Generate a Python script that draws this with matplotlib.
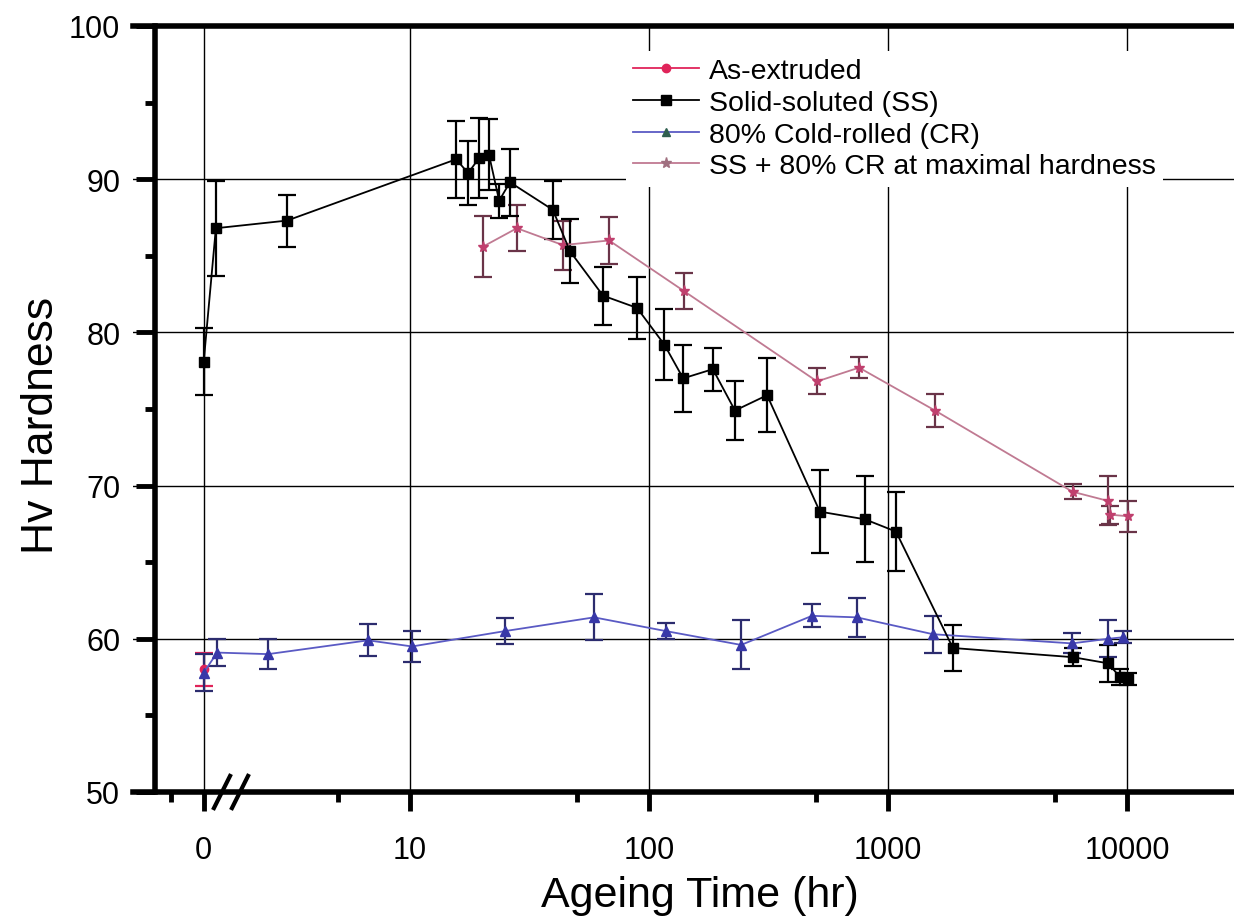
import numpy as np
import matplotlib
matplotlib.use("Agg")
import matplotlib.pyplot as plt
from matplotlib.lines import Line2D
from matplotlib.ticker import FixedLocator, NullFormatter

plt.rcParams["font.family"] = ["Liberation Sans", "DejaVu Sans"]

# =====================================================
# DATA (hours on a log axis, "0" sits at X_ZERO)
# =====================================================

X_ZERO = 1.37

as_ext_time = [X_ZERO]
as_ext_hv = [58.0]
as_ext_err = [1.1]

ss_time = [X_ZERO, 1.54, 3.06, 15.6, 17.5, 19.5, 21.4, 23.6, 26.2, 39.6,
           46.7, 64.2, 89.1, 116, 139, 185, 229, 312, 519, 801,
           1080, 1870, 5940, 8340, 9360, 10090]
ss_hv = [78.1, 86.8, 87.3, 91.3, 90.4, 91.4, 91.6, 88.6, 89.8, 88.0,
         85.3, 82.4, 81.6, 79.2, 77.0, 77.6, 74.9, 75.9, 68.3, 67.8,
         67.0, 59.4, 58.8, 58.4, 57.5, 57.4]
ss_err = [2.2, 3.1, 1.7, 2.5, 2.1, 2.6, 2.3, 1.1, 2.2, 1.9,
          2.1, 1.9, 2.0, 2.3, 2.2, 1.4, 1.9, 2.4, 2.7, 2.8,
          2.6, 1.5, 0.6, 1.2, 0.5, 0.4]

cr_time = [X_ZERO, 1.56, 2.55, 6.67, 10.2, 24.9, 58.9, 118, 243, 481,
           741, 1542, 5890, 8340, 9620]
cr_hv = [57.8, 59.1, 59.0, 59.9, 59.5, 60.5, 61.4, 60.5, 59.6, 61.5,
         61.4, 60.3, 59.7, 60.0, 60.1]
cr_err = [1.2, 0.9, 1.0, 1.05, 1.0, 0.85, 1.5, 0.5, 1.6, 0.75,
          1.25, 1.2, 0.65, 1.2, 0.4]

mix_time = [20.2, 28.0, 43.6, 68.1, 140, 505, 757, 1574, 5920, 8340,
            8530, 10090]
mix_hv = [85.6, 86.8, 85.7, 86.0, 82.7, 76.8, 77.7, 74.9, 69.6, 69.0,
          68.1, 68.0]
mix_err = [2.0, 1.5, 1.6, 1.55, 1.2, 0.85, 0.7, 1.1, 0.5, 1.6,
           0.6, 1.0]

x_major = [X_ZERO, 10, 100, 1000, 10000]
x_labels = ["0", "10", "100", "1000", "10000"]
x_minor = [1.0, 5, 50, 500, 5000]

# =====================================================
# FIGURE
# =====================================================

fig = plt.figure(figsize=(12.34, 9.20), dpi=100)

ax = fig.add_axes([133 / 1234, 127 / 920, 1167 / 1234, 766 / 920])

ax.set_xscale("log")
ax.set_xlim(0.693, 53000)
ax.set_ylim(50, 100)

ax.set_axisbelow(True)

series = [
    (as_ext_time, as_ext_hv, as_ext_err, "o", "#e0245a", "#e0245a", "#e0245a", 6),
    (cr_time, cr_hv, cr_err, "^", "#5a5ac4", "#3838a8", "#2c2c6e", 7),
    (mix_time, mix_hv, mix_err, "*", "#c07a92", "#c0406e", "#6a3448", 8),
    (ss_time, ss_hv, ss_err, "s", "black", "black", "black", 7),
]

for t, hv, err, mk, lc, mc, ec, ms in series:

    ax.errorbar(
        t,
        hv,
        yerr=err,
        fmt="-" + mk,
        color=lc,
        markerfacecolor=mc,
        markeredgecolor=mc,
        markersize=ms,
        linewidth=1.3,
        ecolor=ec,
        elinewidth=1.6,
        capsize=6.5,
        capthick=1.6,
        zorder=3
    )

# =====================================
# Ticks & Grid
# =====================================

ax.xaxis.set_major_locator(FixedLocator(x_major))
ax.xaxis.set_minor_locator(FixedLocator(x_minor))
ax.set_xticklabels(x_labels)
ax.xaxis.set_minor_formatter(NullFormatter())

ax.set_yticks([50, 60, 70, 80, 90, 100])
ax.set_yticks([55, 65, 75, 85, 95], minor=True)

ax.tick_params(axis="both", which="major", direction="out",
               length=14, width=3.5, labelsize=22, pad=11)
ax.tick_params(axis="x", which="major", pad=17)
ax.tick_params(axis="both", which="minor", direction="out",
               length=7, width=3.5)
ax.tick_params(axis="x", top=False)
ax.tick_params(axis="y", right=False)

ax.grid(True, which="major", color="black", linewidth=1.0)

for side in ["left", "bottom", "top"]:
    ax.spines[side].set_linewidth(4)
ax.spines["right"].set_visible(False)
ax.spines["left"].set_position(("axes", 22 / 1167))

# =====================================
# Axis break marks
# =====================================

for cx in [(222 - 133) / 1167, (240 - 133) / 1167]:
    ax.plot([cx - 0.0069, cx + 0.0069], [-0.021, 0.021],
            transform=ax.transAxes, color="black",
            linewidth=3, clip_on=False, zorder=5)

# =====================================
# Labels
# =====================================

ax.set_xlabel("Ageing Time (hr)", fontsize=31)
ax.xaxis.set_label_coords(0.486, -0.108)

ax.set_ylabel("Hv Hardness", fontsize=32)
ax.yaxis.set_label_coords(-0.061, 0.48)

# =====================================
# Legend
# =====================================

handles = [
    Line2D([], [], color="#e0245a", marker="o", markersize=6, linewidth=1.3),
    Line2D([], [], color="black", marker="s", markersize=7, linewidth=1.3),
    Line2D([], [], color="#5a5ac4", marker="^", markersize=6,
           markerfacecolor="#2f5f4f", markeredgecolor="#2f5f4f", linewidth=1.3),
    Line2D([], [], color="#c07a92", marker="*", markersize=8,
           markerfacecolor="#a07080", markeredgecolor="#a07080", linewidth=1.3),
]
names = [
    "As-extruded",
    "Solid-soluted (SS)",
    "80% Cold-rolled (CR)",
    "SS + 80% CR at maximal hardness",
]

leg = ax.legend(
    handles,
    names,
    loc="upper left",
    bbox_to_anchor=(612 / 1234, 1 - 38 / 920),
    bbox_transform=fig.transFigure,
    fontsize=20.5,
    frameon=True,
    fancybox=False,
    framealpha=1,
    edgecolor="none",
    facecolor="white",
    handlelength=2.3,
    handletextpad=0.35,
    labelspacing=0.2,
    borderpad=0.25
)
leg.set_zorder(10)

fig.savefig("out.png", dpi=100)
